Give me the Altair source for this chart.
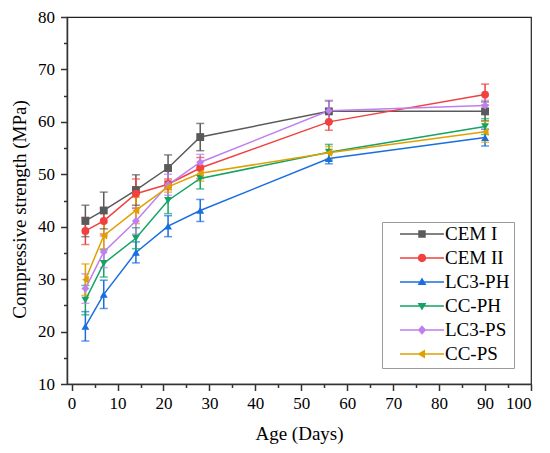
import altair as alt
import pandas as pd

ages = [3, 7, 14, 21, 28, 56, 90]
series = ["CEM I", "CEM II", "LC3-PH", "CC-PH", "LC3-PS", "CC-PS"]

cem1 = [41.1, 43.1, 47.0, 51.2, 57.1, 62.0, 62.0]
cem1_err = [3.0, 3.5, 2.9, 2.5, 2.6, 2.0, 1.8]
cem2 = [39.2, 41.1, 46.3, 48.1, 51.2, 60.0, 65.2]
cem2_err = [2.6, 2.5, 2.8, 1.0, 2.0, 1.6, 2.0]
lc3ph = [21.0, 27.1, 35.1, 40.1, 43.1, 53.0, 57.0]
lc3ph_err = [2.8, 2.7, 2.0, 2.0, 2.1, 1.0, 1.6]
ccph = [26.0, 33.0, 37.8, 45.0, 49.2, 54.2, 59.1]
ccph_err = [2.8, 2.6, 2.0, 2.5, 2.0, 1.5, 1.5]
lc3ps = [28.2, 35.2, 41.1, 48.0, 52.3, 62.1, 63.1]
lc3ps_err = [2.8, 3.0, 2.5, 2.0, 1.5, 2.0, 1.0]
ccps = [29.9, 38.3, 43.1, 47.6, 50.2, 54.1, 58.1]
ccps_err = [3.0, 2.5, 2.5, 1.0, 1.5, 1.2, 2.0]

x_ticks = list(range(0, 101, 5))
y_ticks = list(range(10, 81, 5))

colors = ["#5a5a5a", "#f14040", "#1a6fdf", "#12a463", "#c07ff0", "#e0a000"]
shapes = ["square", "circle", "triangle-up", "triangle-down", "diamond", "triangle-left"]
LINE = "M-1,-0.035H1V0.035H-1Z"
legend_paths = [
    LINE + "M-0.17,-0.17H0.17V0.17H-0.17Z",
    LINE + "M-0.19,0A0.19,0.19,0,1,1,0.19,0A0.19,0.19,0,1,1,-0.19,0Z",
    LINE + "M0,-0.21L0.2,0.14L-0.2,0.14Z",
    LINE + "M0,0.21L-0.2,-0.14L0.2,-0.14Z",
    LINE + "M0,-0.22L0.19,0L0,0.22L-0.19,0Z",
    LINE + "M-0.21,0L0.14,-0.2L0.14,0.2Z",
]

rows = []
for name, vals, errs in zip(
    series,
    [cem1, cem2, lc3ph, ccph, lc3ps, ccps],
    [cem1_err, cem2_err, lc3ph_err, ccph_err, lc3ps_err, ccps_err],
):
    for a, v, e in zip(ages, vals, errs):
        rows.append({"series": name, "age": a, "value": v, "lo": v - e, "hi": v + e})
df = pd.DataFrame(rows)

FONT = "Liberation Serif, Times New Roman, Times, serif"

def tick_size():
    return {"condition": {"test": "datum.value % 10 === 0", "value": 6.5}, "value": 3.5}

x_axis = alt.Axis(
    values=x_ticks,
    labelExpr="datum.value % 10 === 0 ? datum.label : ''",
    tickSize=tick_size(),
    title="Age (Days)",
    labelPadding=5,
    titlePadding=13,
)
y_axis = alt.Axis(
    values=y_ticks,
    labelExpr="datum.value % 10 === 0 ? datum.label : ''",
    tickSize=tick_size(),
    title="Compressive strength (MPa)",
    titleY=192,
    labelPadding=6,
    titlePadding=8,
)
x_scale = alt.Scale(domain=[-1, 100], nice=False, zero=False)
y_scale = alt.Scale(domain=[10, 80], nice=False, zero=False)

def X():
    return alt.X("age:Q", scale=x_scale, axis=x_axis)

def Y(field):
    return alt.Y(f"{field}:Q", scale=y_scale, axis=y_axis)

color_scale = alt.Scale(domain=series, range=colors)
color = alt.Color("series:N", scale=color_scale, legend=None)

base = alt.Chart(df)

def leg():
    return alt.Legend(
        title=None,
        orient="none",
        legendX=315,
        legendY=205,
        fillColor="white",
        strokeColor="#9a9a9a",
        padding=4,
        cornerRadius=0,
        symbolSize=1936,
        symbolStrokeWidth=0,
        symbolOffset=14,
        labelOffset=1,
        clipHeight=16,
        rowPadding=5,
        labelFont=FONT,
        labelFontSize=19,
        labelColor="black",
        labelLimit=200,
    )

legend_layer = base.transform_filter("false").mark_point(filled=True, opacity=1).encode(
    x=X(),
    y=Y("value"),
    color=alt.Color("series:N", scale=color_scale, legend=leg()),
    shape=alt.Shape("series:N", scale=alt.Scale(domain=series, range=legend_paths), legend=leg()),
)

err_rule = base.mark_rule(strokeWidth=1.5).encode(x=X(), y=Y("lo"), y2="hi:Q", color=color)
cap_lo = base.mark_tick(orient="horizontal", size=8, thickness=1.5).encode(x=X(), y=Y("lo"), color=color)
cap_hi = base.mark_tick(orient="horizontal", size=8, thickness=1.5).encode(x=X(), y=Y("hi"), color=color)
lines = base.mark_line(strokeWidth=1.5).encode(x=X(), y=Y("value"), color=color, detail="series:N")

point_layers = [
    base.transform_filter(alt.datum.series == name)
    .mark_point(filled=True, size=62, opacity=1, shape=shp)
    .encode(x=X(), y=Y("value"), color=color)
    for name, shp in zip(series, shapes)
]

chart = (
    alt.layer(legend_layer, err_rule, cap_lo, cap_hi, lines, *point_layers)
    .properties(
        width=464,
        height=367,
        padding={"left": 59, "top": 9, "right": 8, "bottom": 60},
        autosize=alt.AutoSizeParams(type="none"),
        background="white",
    )
    .configure_axis(
        labelFont=FONT,
        labelFontSize=17,
        labelColor="black",
        titleFont=FONT,
        titleFontSize=19,
        titleFontWeight="normal",
        titleColor="black",
        domainColor="#333333",
        domainWidth=1.5,
        tickColor="#333333",
        tickWidth=1.5,
        grid=False,
    )
    .configure_view(stroke="#222222", strokeWidth=1.2)
)

chart.save("out.html", embed_options={"renderer": "svg", "actions": False})
